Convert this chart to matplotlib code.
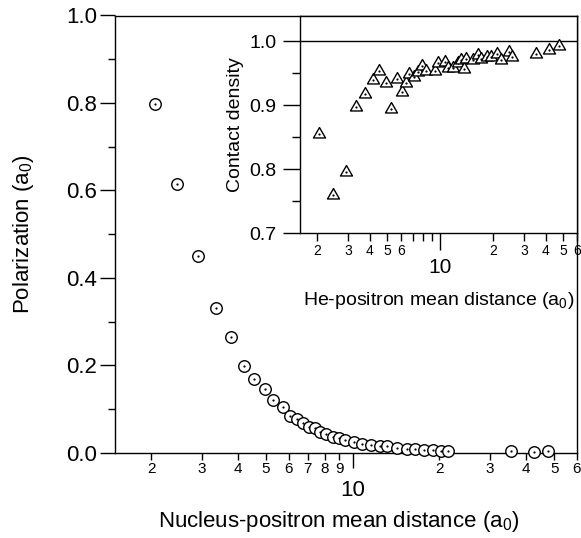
import matplotlib
matplotlib.use('Agg')
import matplotlib.pyplot as plt
from matplotlib.path import Path
from matplotlib.ticker import FixedLocator, FixedFormatter, MultipleLocator, FormatStrFormatter

plt.rcParams['font.family'] = ['Liberation Sans', 'DejaVu Sans']
plt.rcParams['mathtext.fontset'] = 'custom'
plt.rcParams['mathtext.rm'] = 'Liberation Sans'
plt.rcParams['mathtext.it'] = 'Liberation Sans:italic'

# Nucleus-positron mean distance (a0) vs polarization (a0)
main_dist = [2.07, 2.47, 2.92, 3.35, 3.78, 4.19, 4.54, 4.95, 5.29, 5.73,
             6.08, 6.40, 6.72, 7.04, 7.43, 7.73, 8.10, 8.54, 8.95, 9.40,
             10.1, 10.8, 11.6, 12.4, 13.2, 14.3, 15.5, 16.5, 17.7, 19.0,
             20.3, 21.5, 35.5, 42.5, 47.6]
main_pol = [0.798, 0.615, 0.449, 0.330, 0.264, 0.198, 0.168, 0.146, 0.120, 0.104,
            0.085, 0.076, 0.068, 0.058, 0.057, 0.047, 0.042, 0.037, 0.033, 0.030,
            0.025, 0.020, 0.017, 0.015, 0.015, 0.011, 0.0085, 0.0085, 0.007, 0.006,
            0.0046, 0.004, 0.004, 0.002, 0.0046]

# He-positron mean distance (a0) vs contact density
inset_dist = [2.06, 2.47, 2.93, 3.36, 3.76, 4.17, 4.52, 4.92, 5.27, 5.68,
              6.06, 6.38, 6.66, 7.11, 7.52, 7.96, 8.39, 9.35, 9.77, 10.66,
              11.1, 11.9, 12.7, 13.2, 13.7, 14.1, 15.4, 16.5, 17.2, 18.4,
              19.6, 21.1, 22.3, 24.6, 25.8, 34.9, 41.5, 47.3]
inset_cd = [0.855, 0.760, 0.796, 0.897, 0.917, 0.939, 0.953, 0.935, 0.895, 0.941,
            0.921, 0.935, 0.949, 0.945, 0.952, 0.962, 0.953, 0.953, 0.966, 0.968,
            0.959, 0.958, 0.966, 0.971, 0.956, 0.973, 0.971, 0.979, 0.973, 0.976,
            0.976, 0.980, 0.971, 0.984, 0.976, 0.980, 0.986, 0.992]

main_minor_ticks = [2, 3, 4, 5, 6, 7, 8, 9, 20, 30, 40, 50, 60]
main_minor_labels = ['2', '3', '4', '5', '6', '7', '8', '9', '2', '3', '4', '5', '6']
inset_minor_ticks = [2, 3, 4, 5, 6, 7, 8, 9, 20, 30, 40, 50, 60]
inset_minor_labels = ['2', '3', '4', '5', '6', '', '', '', '2', '3', '4', '5', '6']

W, H = 581, 538
fig = plt.figure(figsize=(W / 100, H / 100), dpi=100)
ax = fig.add_axes([115 / W, 1 - 452.7 / H, 462 / W, 437.2 / H])
ins = fig.add_axes([299.7 / W, 1 - 233.3 / H, 277.3 / W, 217.6 / H])

tri = Path([(-1, -0.577), (1, -0.577), (0, 1.155), (-1, -0.577)], closed=True)


def dotted_markers(a, xs, ys, marker, ms):
    # draw one by one so later points cover earlier ones
    for i, (x, y) in enumerate(zip(xs, ys)):
        a.plot(x, y, marker=marker, ms=ms, mfc='white', mec='black', mew=1.0,
               ls='none', zorder=3 + 2 * i, clip_on=False)
        a.plot(x, y, marker='o', ms=1.6, mfc='black', mec='black', mew=0,
               ls='none', zorder=4 + 2 * i, clip_on=False)


def setup_log_x(a, minor_ticks, minor_labels, minor_size, major_size, big, small, pad_minor, pad_major):
    a.set_xscale('log')
    a.xaxis.set_major_locator(FixedLocator([10]))
    a.xaxis.set_major_formatter(FixedFormatter(['10']))
    a.xaxis.set_minor_locator(FixedLocator(minor_ticks))
    a.xaxis.set_minor_formatter(FixedFormatter(minor_labels))
    a.tick_params(axis='x', which='major', direction='out', length=big, width=1,
                  labelsize=major_size, pad=pad_major)
    a.tick_params(axis='x', which='minor', direction='out', length=small, width=1,
                  labelsize=minor_size, pad=pad_minor)


# main panel
dotted_markers(ax, main_dist, main_pol, 'o', 8.3)
ax.set_xlim(1.5, 60)
ax.set_ylim(0, 1.0)
setup_log_x(ax, main_minor_ticks, main_minor_labels, 11, 16, 10.8, 5.0, 2, 9)
ax.yaxis.set_major_locator(MultipleLocator(0.2))
ax.yaxis.set_major_formatter(FormatStrFormatter('%.1f'))
ax.yaxis.set_minor_locator(MultipleLocator(0.1))
ax.tick_params(axis='y', which='major', direction='out', length=10.8, width=1,
               labelsize=16, pad=2)
ax.tick_params(axis='y', which='minor', direction='out', length=5.4, width=1)
ax.set_xlabel(r'Nucleus-positron mean distance (a$_0$)', fontsize=16)
ax.xaxis.set_label_coords(0.483, -0.128)
ax.set_ylabel(r'Polarization (a$_0$)', fontsize=16, labelpad=22)
for s in ax.spines.values():
    s.set_linewidth(1.0)

# inset
ins.axhline(1.0, color='black', lw=1.0, zorder=2)
dotted_markers(ins, inset_dist, inset_cd, tri, 10.0)
ins.set_xlim(1.6, 60)
ins.set_ylim(0.7, 1.04)
setup_log_x(ins, inset_minor_ticks, inset_minor_labels, 10, 15, 11.9, 5.8, 2, 6)
ins.yaxis.set_major_locator(MultipleLocator(0.1))
ins.yaxis.set_major_formatter(FormatStrFormatter('%.1f'))
ins.yaxis.set_minor_locator(MultipleLocator(0.05))
ins.tick_params(axis='y', which='major', direction='out', length=11.9, width=1,
                labelsize=14, pad=5)
ins.tick_params(axis='y', which='minor', direction='out', length=5.8, width=1)
ins.set_xlabel(r'He-positron mean distance (a$_0$)', fontsize=14, labelpad=9)
ins.set_ylabel('Contact density', fontsize=14, labelpad=4)
for s in ins.spines.values():
    s.set_linewidth(1.0)

fig.savefig('out.png', dpi=100)
